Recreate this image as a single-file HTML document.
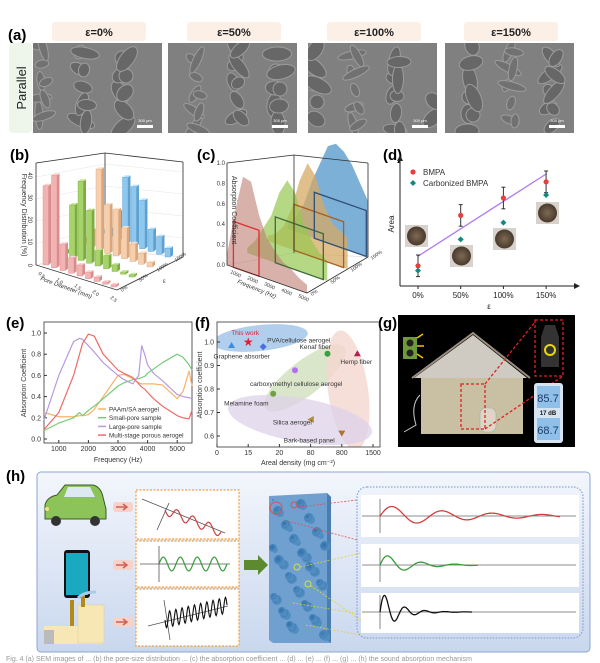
<!DOCTYPE html>
<html><head><meta charset="utf-8">
<style>
html,body{margin:0;padding:0;background:#fff;}
body{width:600px;height:663px;overflow:hidden;position:relative;font-family:"Liberation Sans",sans-serif;}
svg{position:absolute;left:0;top:0;}
</style></head>
<body>
<svg id="fig" width="600" height="663" viewBox="0 0 600 663" xmlns="http://www.w3.org/2000/svg" font-family="Liberation Sans, sans-serif">
<defs>
<radialGradient id="pore" cx="0.4" cy="0.4" r="0.7"><stop offset="0" stop-color="#2f6fa8"/><stop offset="1" stop-color="#5c97c8"/></radialGradient>
<linearGradient id="hbg" x1="0" y1="0" x2="0" y2="1"><stop offset="0" stop-color="#f3f6fc"/><stop offset="1" stop-color="#c9d7ee"/></linearGradient>
<radialGradient id="coin" cx="0.5" cy="0.5" r="0.5"><stop offset="0" stop-color="#7d6a55"/><stop offset="1" stop-color="#4a3a2c"/></radialGradient>
<clipPath id="fclip"><rect x="217" y="322" width="163" height="125"/></clipPath>
</defs>

<!-- (a) -->
<g>
<text x="8" y="40" font-size="15" font-weight="bold">(a)</text>
<rect x="9" y="43" width="23" height="90" rx="4" fill="#eef5ea"/>
<text transform="translate(26,88) rotate(-90)" text-anchor="middle" font-size="13" fill="#222">Parallel</text>
<g id="semHeaders"></g>
<g id="semImgs"></g>
</g>

<g id="pb">
<text x="10" y="160" font-size="15" font-weight="bold">(b)</text>
</g>
<g id="pc">
<text x="197" y="160" font-size="15" font-weight="bold">(c)</text>
</g>
<g id="pd">
<text x="383" y="160" font-size="15" font-weight="bold">(d)</text>
</g>
<g id="pe">
<text x="6" y="328" font-size="15" font-weight="bold">(e)</text>
</g>
<g id="pf">
<text x="195" y="328" font-size="15" font-weight="bold">(f)</text>
</g>
<g id="pg">
<text x="378" y="328" font-size="15" font-weight="bold">(g)</text>
<rect x="398" y="315" width="177" height="132" fill="#000"/>
<rect x="403" y="337" width="14" height="22" fill="#6f9a3a"/>
<circle cx="410" cy="343" r="3.5" fill="#222"/><circle cx="410" cy="353" r="3.5" fill="#222"/>
<path d="M417 338 l6 -4 M417 346 l7 0 M417 354 l6 4" stroke="#f2c200" stroke-width="1.5"/>
<polygon points="414,378 473,335 527,378" fill="#cfcbc2"/>
<polyline points="412,378 473,333 530,378" fill="none" stroke="#9b8f80" stroke-width="2"/>
<rect x="421" y="378" width="102" height="56" fill="#c9bfa3"/>
<rect x="480" y="408" width="16" height="24" rx="6" fill="#ddd6c6" stroke="#aaa" stroke-width="0.6"/>
<path d="M420 395 q-10 10 -4 30 l-12 7" fill="none" stroke="#ccc" stroke-width="1"/>
<rect x="461" y="384" width="24" height="45" fill="none" stroke="#e02020" stroke-width="1.3" stroke-dasharray="3,2"/>
<line x1="485" y1="384" x2="535" y2="322" stroke="#e02020" stroke-width="1.3" stroke-dasharray="3,2"/>
<line x1="485" y1="429" x2="563" y2="376" stroke="#e02020" stroke-width="1.3" stroke-dasharray="3,2"/>
<rect x="535" y="320" width="28" height="56" fill="none" stroke="#e02020" stroke-width="1.3" stroke-dasharray="3,2"/>
<path d="M545 325 h10 l4 12 v30 h-18 v-30 z" fill="#333"/>
<circle cx="550" cy="350" r="5" fill="none" stroke="#e8d800" stroke-width="2"/>
<rect x="534" y="383" width="29" height="60" rx="3" fill="#d6e4f2"/>
<rect x="537" y="386" width="23" height="22" fill="#8fc0ea"/>
<text x="548" y="402" font-size="11" text-anchor="middle" fill="#1a3a6a">85.7</text>
<text x="548" y="415" font-size="6" text-anchor="middle" font-weight="bold" fill="#111">17 dB</text>
<rect x="537" y="418" width="23" height="22" fill="#8fc0ea"/>
<text x="548" y="434" font-size="11" text-anchor="middle" fill="#1a3a6a">68.7</text>
</g>

<g id="ph">
<text x="6" y="481" font-size="15" font-weight="bold">(h)</text>
<rect x="37" y="472" width="553" height="180" rx="4" fill="url(#hbg)" stroke="#8ea6cf" stroke-width="1"/>
<g>
<path d="M45 505 q2 -8 12 -10 l8 -10 h28 q8 2 10 12 l3 12 v10 h-61 z" fill="#8cc45a" stroke="#3d5a25" stroke-width="1"/>
<path d="M68 487 h22 l5 10 h-31 z" fill="#dce9f0"/>
<circle cx="56" cy="521" r="5" fill="#333"/><circle cx="95" cy="521" r="5" fill="#333"/>
<circle cx="47" cy="509" r="2" fill="#f5e27a"/>
</g>
<rect x="64" y="550" width="26" height="48" rx="3" fill="#111"/>
<rect x="66" y="553" width="22" height="42" fill="#1aa9c0"/>
<g>
<rect x="44" y="626" width="58" height="18" fill="#f6e7b4"/>
<rect x="78" y="605" width="26" height="38" fill="#f6e7b4" stroke="#e0c98a" stroke-width="0.5"/>
<rect x="70" y="600" width="4" height="26" fill="#b08a1a"/>
<rect x="81" y="595" width="4" height="12" fill="#b08a1a"/>
<rect x="44" y="630" width="10" height="14" fill="#bbb"/>
<path d="M78 598 q6 -6 18 -6" stroke="#a8cbe8" stroke-width="3" fill="none"/>
</g>
<g id="hArrows"></g>
<rect x="136" y="490" width="103" height="49" fill="#fff" stroke="#f0a040" stroke-width="1.2" stroke-dasharray="2,1.5"/>
<rect x="136" y="541" width="103" height="46" fill="#fff" stroke="#f0a040" stroke-width="1.2" stroke-dasharray="2,1.5"/>
<rect x="136" y="589" width="103" height="57" fill="#fff" stroke="#f0a040" stroke-width="1.2" stroke-dasharray="2,1.5"/>
<g id="hWaves"></g>
<polygon points="244,560 258,560 258,555 268,565 258,575 258,570 244,570" fill="#5d8a2e"/>
<polygon points="269,496 327,493 331,497 331,643 273,643 269,640" fill="#6fa0d0"/>
<polygon points="327,493 331,497 331,643 327,640" fill="#4a7eb2"/>
<g id="pores"></g>
<rect x="357" y="487" width="226" height="151" rx="10" fill="none" stroke="#8ea6cf" stroke-width="1.3" stroke-dasharray="1.5,1.5"/>
<rect x="361" y="495" width="218" height="42" fill="#fff"/>
<rect x="361" y="544" width="218" height="43" fill="#fff"/>
<rect x="361" y="593" width="218" height="40" fill="#fff"/>
<g id="hDamp"></g>
<text x="6" y="661" font-size="7" fill="#999">Fig. 4  (a) SEM images of ... (b) the pore-size distribution ... (c) the absorption coefficient ... (d) ... (e) ... (f) ... (g) ... (h) the sound absorption mechanism</text>
</g>
</svg>

<script>
const NS='http://www.w3.org/2000/svg';
function mk(tag,attrs,parent){const e=document.createElementNS(NS,tag);for(const k in attrs)e.setAttribute(k,attrs[k]);parent.appendChild(e);return e;}
function txt(s,attrs,parent){const e=mk('text',attrs,parent);e.textContent=s;return e;}

/* ===== (a) SEM ===== */
const semLabels=['ε=0%','ε=50%','ε=100%','ε=150%'];
const semX=[33,168,308,445];
const gH=document.getElementById('semHeaders'),gI=document.getElementById('semImgs');
semLabels.forEach((l,i)=>{
  const x=semX[i];
  const hb=mk('rect',{x:x+19,y:22,width:94,height:19,rx:3,fill:'#fbefe6'},gH);
  
  
  const t=txt(l,{x:x+66,y:36,'font-size':11,'font-weight':'bold','text-anchor':'middle',fill:'#222'},gH);
  
  
  const r=mk('rect',{x:x,y:43,width:129,height:90,fill:'#808080'},gI);
  
  
  const cp='semclip'+i;
  const c=mk('clipPath',{id:cp},gI);mk('rect',{x:x,y:43,width:129,height:90},c);
  const gg=mk('g',{'clip-path':`url(#${cp})`},gI);
  for(let k=0;k<26;k++){
    const cx=x+5+((k*41+i*19)%122),cy=46+((k*23+i*13)%86);
    mk('ellipse',{cx:cx,cy:cy,rx:7+(k%4)*2.5,ry:4+(k%3)*1.5,fill:k%3?'#676767':'#717171',stroke:'#9c9c9c','stroke-width':1,transform:`rotate(${(k*29+i*40)%180} ${cx} ${cy})`},gg);
  }
  mk('rect',{x:x+104,y:125,width:16,height:3,fill:'#fff'},gI);
  txt('300 μm',{x:x+112,y:122,'font-size':4,'text-anchor':'middle',fill:'#fff'},gI);
});

/* ===== (b) 3D bar chart ===== */
const poreDiam=['0.5','1.0','1.5','2.0','2.5','3.0','3.5','4.0','4.5'];
const strainRows=['0%','50%','100%','150%'];
const freqPink=[36,42,12,7,5,3,2,1,1];
const freqGreen=[2,24,36,24,7,6,3,1,1];
const freqTan=[3,8,37,22,21,14,8,5,2];
const freqBlue=[2,4,13,30,27,22,10,8,4];
(function(){
 const g=document.getElementById('pb');
 const rows=[freqPink,freqGreen,freqTan,freqBlue];
 const cols=[['#f2b3b3','#d98c8c','#fbd3d3'],['#a7d36b','#7eab45','#c8e79a'],['#f7cfad','#d8a77e','#fde2cb'],['#8fc8ef','#5fa1cf','#c0e2f8']];
 const P=(r,i,v)=>[43+i*8.5+r*18, 265+i*2.75-r*10 - v*2.2];
 mk('polygon',{points:'36,163 105,153 105,250 36,265',fill:'none',stroke:'#e4e4e4'},g);
 mk('polygon',{points:'105,153 183,162 183,257 105,250',fill:'none',stroke:'#e4e4e4'},g);
 for(let t=10;t<=40;t+=10){const yy=265-t*2.2;mk('polyline',{points:`36,${yy} 105,${yy-13} 183,${yy-5}`,fill:'none',stroke:'#e6e6e6','stroke-width':0.6},g);}
 mk('polyline',{points:'36,163 36,265 117,290 183,257 183,162',fill:'none',stroke:'#333','stroke-width':0.8},g);
 mk('polyline',{points:'36,163 105,153 183,162',fill:'none',stroke:'#333','stroke-width':0.8},g);
 mk('line',{x1:105,y1:153,x2:105,y2:250,stroke:'#333','stroke-width':0.8},g);
 for(let r=3;r>=0;r--){
  rows[r].forEach((v,i)=>{
   const [x,yb]=P(r,i,0); const yt=yb-v*2.2; const w=5.5,dx=2.5,dy=-2;
   mk('polygon',{points:`${x+w},${yt} ${x+w+dx},${yt+dy} ${x+w+dx},${yb+dy} ${x+w},${yb}`,fill:cols[r][1]},g);
   mk('polygon',{points:`${x},${yt} ${x+dx},${yt+dy} ${x+w+dx},${yt+dy} ${x+w},${yt}`,fill:cols[r][2]},g);
   const bar=mk('rect',{x:x,y:yt,width:w,height:Math.max(v*2.2,0.5),fill:cols[r][0],stroke:cols[r][1],'stroke-width':0.4},g);
   
   
  });
 }
 [0,10,20,30,40].forEach(t=>{txt(String(t),{x:32,y:267-t*2.2,'font-size':6,'text-anchor':'end',fill:'#333',transform:`rotate(90 30 ${265-t*2.2})`},g);});
 const yl=txt('Frequency Distribution (%)',{x:0,y:0,'font-size':7,'text-anchor':'middle',fill:'#333',transform:'translate(22,215) rotate(90)'},g);
 
 
 ['0.5','1.0','1.5','2.0','2.5'].forEach((t,i)=>txt(t,{x:38+i*18,y:274+i*6,'font-size':5,fill:'#333',transform:`rotate(40 ${38+i*18} ${274+i*6})`},g));
 txt('Pore Diameter (mm)',{x:0,y:0,'font-size':6,fill:'#333','font-style':'italic',transform:'translate(40,280) rotate(20)'},g);
 strainRows.forEach((t,i)=>txt(t,{x:122+i*18,y:292-i*10,'font-size':5,fill:'#333',transform:`rotate(-35 ${122+i*18} ${292-i*10})`},g));
 txt('ε',{x:163,y:283,'font-size':6,fill:'#333'},g);
})();

/* ===== (c) 3D absorption ===== */
const cFreqTicks=['1000','2000','3000','4000','5000'];
const absPink=[0.1,0.55,0.92,0.9,0.6,0.4,0.3,0.22,0.18,0.12,0.08];
const absGreen=[0.05,0.15,0.3,0.45,0.7,0.85,0.75,0.5,0.35,0.25,0.2];
const absTan=[0.05,0.1,0.2,0.4,0.7,0.9,0.8,0.55,0.4,0.35,0.3];
const absBlue=[0.05,0.15,0.3,0.55,0.75,0.95,1.0,0.95,0.85,0.7,0.55];
(function(){
 const g=document.getElementById('pc');
 const P=(r,f,v)=>[227+f*80+r*20.3, 265+f*28-r*12 - v*102];
 mk('polygon',{points:'227,163 294,155 294,253 227,265',fill:'none',stroke:'#e4e4e4'},g);
 mk('polygon',{points:'294,155 368,163 368,257 294,253',fill:'none',stroke:'#e4e4e4'},g);
 const rows=[absBlue,absTan,absGreen,absPink];
 const fills=['rgba(80,150,200,0.75)','rgba(215,170,100,0.75)','rgba(150,200,80,0.7)','rgba(190,125,115,0.6)'];
 const rowIdx=[3,2,1,0];
 rows.forEach((arr,k)=>{
   const r=rowIdx[k];
   let pts=[P(r,0,0)];
   arr.forEach((v,i)=>pts.push(P(r,i/(arr.length-1),v)));
   pts.push(P(r,1,0));
   const p=mk('polygon',{points:pts.map(q=>q.join(',')).join(' '),fill:fills[k]},g);
   
   
 });
 const rects=[[0,0.08,0.4,'#e03030'],[1,0.35,0.95,'#3f6a3a'],[2,0.33,0.95,'#a8601e'],[3,0.33,0.98,'#2e4f78']];
 rects.forEach(([r,f1,f2,c])=>{
   const a=P(r,f1,0),b=P(r,f2,0),cc=P(r,f2,0.45),d=P(r,f1,0.45);
   const e=mk('polygon',{points:[a,b,cc,d].map(q=>q.join(',')).join(' '),fill:'none',stroke:c,'stroke-width':1.3},g);
   
   
 });
 mk('polyline',{points:'227,163 227,265 307,293 368,257 368,163',fill:'none',stroke:'#333','stroke-width':0.8},g);
 mk('polyline',{points:'227,163 294,155 368,163',fill:'none',stroke:'#333','stroke-width':0.8},g);
 mk('line',{x1:294,y1:155,x2:294,y2:253,stroke:'#333','stroke-width':0.8},g);
 [0,0.2,0.4,0.6,0.8,1.0].forEach(t=>txt(t.toFixed(1),{x:225,y:267-t*102,'font-size':6,'text-anchor':'end',fill:'#333'},g));
 txt('Absorption Coefficient',{x:0,y:0,'font-size':7,'text-anchor':'middle',fill:'#333',transform:'translate(232,210) rotate(90)'},g);
 cFreqTicks.forEach((t,i)=>{const x=230+i*17,y=273+i*6;txt(t,{x:x,y:y,'font-size':5,fill:'#333',transform:`rotate(25 ${x} ${y})`},g);});
 txt('Frequency (Hz)',{x:0,y:0,'font-size':6,fill:'#333','font-style':'italic',transform:'translate(237,283) rotate(22)'},g);
 strainRows.forEach((t,i)=>txt(t,{x:312+i*20,y:296-i*12,'font-size':5,fill:'#333',transform:`rotate(-35 ${312+i*20} ${296-i*12})`},g));
})();

/* ===== (d) Area vs strain ===== */
const dCats=['0%','50%','100%','150%'];
const areaBMPA=[1.6,5.8,7.25,8.6];
const areaCarb=[1.2,3.8,5.2,7.5];
const areaErr=[0.9,0.9,0.9,0.9];
const fitLine=[2.4,9.25];
(function(){
 const g=document.getElementById('pd');
 const X=i=>418+i*42.7, Y=v=>285-v*12;
 mk('line',{x1:400,y1:286,x2:578,y2:286,stroke:'#222','stroke-width':1},g);
 mk('polygon',{points:'580,286 574,283 574,289',fill:'#222'},g);
 mk('line',{x1:400,y1:286,x2:400,y2:158,stroke:'#222','stroke-width':1},g);
 mk('polygon',{points:'400,155 397,161 403,161',fill:'#222'},g);
 dCats.forEach((c,i)=>{
   mk('line',{x1:X(i),y1:286,x2:X(i),y2:289,stroke:'#222'},g);
   const t=txt(c,{x:X(i),y:298,'font-size':8,'text-anchor':'middle',fill:'#222'},g);
   
   
 });
 txt('ε',{x:489,y:309,'font-size':8,'text-anchor':'middle',fill:'#222'},g);
 txt('Area',{x:0,y:0,'font-size':8,'text-anchor':'middle',fill:'#222',transform:'translate(394,224) rotate(-90)'},g);
 const photoPos=[[405,225],[450,245],[493,228],[536,202]];
 photoPos.forEach(([x,y],i)=>{
   const r=mk('rect',{x:x,y:y,width:23,height:22,fill:'#d8d2cc'},g);
   
   
   mk('circle',{cx:x+11.5,cy:y+11,r:9.5,fill:'url(#coin)'},g);
 });
 const fl=mk('line',{x1:X(0),y1:Y(fitLine[0]),x2:X(3),y2:Y(fitLine[1]),stroke:'#b07cf0','stroke-width':1.3},g);
 
 
 areaBMPA.forEach((v,i)=>{
   const e=areaErr[i];
   mk('line',{x1:X(i),y1:Y(v+e),x2:X(i),y2:Y(v-e),stroke:'#333','stroke-width':1},g);
   mk('line',{x1:X(i)-2,y1:Y(v+e),x2:X(i)+2,y2:Y(v+e),stroke:'#333'},g);
   mk('line',{x1:X(i)-2,y1:Y(v-e),x2:X(i)+2,y2:Y(v-e),stroke:'#333'},g);
   const c=mk('circle',{cx:X(i),cy:Y(v),r:2.6,fill:'#e83e3e'},g);
   
   
 });
 areaCarb.forEach((v,i)=>{
   const c=mk('path',{d:`M${X(i)} ${Y(v)-3} L${X(i)+3} ${Y(v)} L${X(i)} ${Y(v)+3} L${X(i)-3} ${Y(v)} Z`,fill:'#138a80'},g);
   
   
 });
 mk('circle',{cx:413,cy:172,r:2.6,fill:'#e83e3e'},g);
 txt('BMPA',{x:423,y:175,'font-size':8,fill:'#333'},g);
 mk('path',{d:'M413 180 l3 3 l-3 3 l-3 -3 z',fill:'#138a80'},g);
 txt('Carbonized BMPA',{x:423,y:186,'font-size':8,fill:'#333'},g);
})();

/* ===== (e) absorption spectra ===== */
const eFreq=[500,1000,1500,1700,1800,2000,2200,2500,3000,3200,3500,3700,3800,3900,4000,4200,4500,5000,5200,5400,5500];
const ePAAm=[0.25,0.21,0.21,0.22,0.22,0.23,0.28,0.40,0.60,0.61,0.57,0.53,0.52,0.52,0.52,0.52,0.51,0.38,0.45,0.64,0.50];
const eSmall=[0.08,0.15,0.20,0.25,0.22,0.27,0.31,0.38,0.50,0.53,0.56,0.57,0.58,0.59,0.62,0.66,0.72,0.80,0.77,0.70,0.65];
const eLarge=[0.18,0.60,0.92,0.95,0.94,0.88,0.82,0.72,0.60,0.56,0.52,0.60,0.88,0.80,0.70,0.62,0.55,0.42,0.40,0.39,0.38];
const eMulti=[0.09,0.25,0.60,0.80,0.90,0.99,0.97,0.80,0.65,0.62,0.58,0.52,0.49,0.47,0.44,0.38,0.31,0.22,0.20,0.19,0.27];
const eXTicks=[1000,2000,3000,4000,5000];
const eYTicks=[0,0.2,0.4,0.6,0.8,1.0];
(function(){
 const g=document.getElementById('pe');
 const X=f=>44+(f-500)*(148/5000), Y=v=>439-v*106;
 mk('rect',{x:44,y:322,width:148,height:121,fill:'none',stroke:'#333','stroke-width':0.8},g);
 eXTicks.forEach(f=>{mk('line',{x1:X(f),y1:443,x2:X(f),y2:440,stroke:'#333'},g);txt(String(f),{x:X(f),y:451,'font-size':7,'text-anchor':'middle',fill:'#333'},g);});
 eYTicks.forEach(v=>{mk('line',{x1:44,y1:Y(v),x2:47,y2:Y(v),stroke:'#333'},g);txt(v.toFixed(1),{x:41,y:Y(v)+2.5,'font-size':7,'text-anchor':'end',fill:'#333'},g);});
 txt('Frequency (Hz)',{x:118,y:462,'font-size':7,'text-anchor':'middle',fill:'#333'},g);
 txt('Absorption Coefficient',{x:0,y:0,'font-size':7,'text-anchor':'middle',fill:'#333',transform:'translate(26,383) rotate(-90)'},g);
 const series=[[ePAAm,'#f8b36a','PAAm/SA aerogel'],[eSmall,'#78cc78','Small-pore sample'],[eLarge,'#b69ae0','Large-pore sample'],[eMulti,'#f06a6a','Multi-stage porous aerogel']];
 series.forEach(([arr,c,n],k)=>{
   const p=mk('polyline',{points:arr.map((v,i)=>X(eFreq[i])+','+Y(v)).join(' '),fill:'none',stroke:c,'stroke-width':1.2,'stroke-linejoin':'round'},g);
   
   
   mk('line',{x1:98,y1:409+k*8.7,x2:106,y2:409+k*8.7,stroke:c,'stroke-width':1.5},g);
   const t=txt(n,{x:109,y:411.5+k*8.7,'font-size':6.3,fill:'#333'},g);
   
   
 });
})();

/* ===== (f) scatter ===== */
const fTickVals=[0,15,20,80,800,1500];
const fNames=['Graphene absorber','This work','PVA/cellulose aerogel','Kenaf fiber','carboxymethyl cellulose aerogel','Melamine foam','Silica aerogel','Bark-based panel','Hemp fiber'];
const fDensity=[7,15,17.4,470,50,19,85,800,1150];
const fAbs=[0.985,1.0,0.98,0.95,0.88,0.78,0.67,0.61,0.95];
const fYTicks=[0.6,0.7,0.8,0.9,1.0];
(function(){
 const g=document.getElementById('pf');
 const X=d=>{let i=0;while(i<fTickVals.length-2&&d>fTickVals[i+1])i++;const t=(d-fTickVals[i])/(fTickVals[i+1]-fTickVals[i]);return 217+(i+t)*31.2;};
 const Y=v=>436-(v-0.6)*235;
 const ge=mk('g',{'clip-path':'url(#fclip)'},g);
 mk('ellipse',{cx:260,cy:338,rx:48,ry:13,fill:'#9ec3e8',opacity:0.8,transform:'rotate(-6 260 338)'},ge);
 mk('ellipse',{cx:305,cy:378,rx:50,ry:17,fill:'#cfe0bd',opacity:0.8,transform:'rotate(-38 305 378)'},ge);
 mk('ellipse',{cx:348,cy:390,rx:20,ry:60,fill:'#f5d7d0',opacity:0.8,transform:'rotate(-8 348 390)'},ge);
 mk('ellipse',{cx:300,cy:420,rx:73,ry:22,fill:'#ddd2ea',opacity:0.75,transform:'rotate(10 300 420)'},ge);
 mk('rect',{x:217,y:322,width:163,height:125,fill:'none',stroke:'#333','stroke-width':0.8},g);
 fTickVals.forEach(v=>{mk('line',{x1:X(v),y1:447,x2:X(v),y2:444,stroke:'#333'},g);txt(String(v),{x:X(v),y:455,'font-size':7,'text-anchor':'middle',fill:'#333'},g);});
 fYTicks.forEach(v=>{mk('line',{x1:217,y1:Y(v),x2:220,y2:Y(v),stroke:'#333'},g);txt(v.toFixed(1),{x:214,y:Y(v)+2.5,'font-size':7,'text-anchor':'end',fill:'#333'},g);});
 txt('Areal density (mg cm⁻²)',{x:298,y:465,'font-size':7,'text-anchor':'middle',fill:'#333'},g);
 txt('Absorption coefficient',{x:0,y:0,'font-size':7,'text-anchor':'middle',fill:'#333',transform:'translate(202,385) rotate(-90)'},g);
 const colors=['#3a8ee0','#e02030','#4a6ee0','#3aa040','#b070f0','#70a040','#b09030','#b07030','#b02050'];
 const shapes=['tri','star','dia','hex','circ','circ','left','down','tri'];
 const lbl=[[-18,13],[-17,-7],[4,-4],[-28,-5],[-45,16],[-49,12],[-38,5],[-58,9],[-17,10]];
 fDensity.forEach((d,i)=>{
  const x=X(d),y=Y(fAbs[i]),c=colors[i];let el;
  if(shapes[i]=='tri')el=mk('polygon',{points:`${x},${y-3.5} ${x+3.5},${y+2.5} ${x-3.5},${y+2.5}`,fill:c},g);
  else if(shapes[i]=='star'){el=mk('text',{x:x,y:y+4,'font-size':12,'text-anchor':'middle',fill:c},g);el.textContent='★';}
  else if(shapes[i]=='dia')el=mk('polygon',{points:`${x},${y-3.5} ${x+3.5},${y} ${x},${y+3.5} ${x-3.5},${y}`,fill:c},g);
  else if(shapes[i]=='left')el=mk('polygon',{points:`${x-3.5},${y} ${x+3},${y-3.5} ${x+3},${y+3.5}`,fill:c},g);
  else if(shapes[i]=='down')el=mk('polygon',{points:`${x-3.5},${y-3} ${x+3.5},${y-3} ${x},${y+3}`,fill:c},g);
  else el=mk('circle',{cx:x,cy:y,r:3,fill:c},g);
  
  
  const t=txt(fNames[i],{x:x+lbl[i][0],y:y+lbl[i][1],'font-size':6.5,fill:i==1?'#e02030':'#333'},g);
  
  
 });
})();

/* ===== (h) waves ===== */
(function(){
 const ga=document.getElementById('hArrows');
 [507,565,622].forEach(y=>{mk('rect',{x:113,y:y-5,width:20,height:10,rx:3,fill:'#f6d2c8'},ga);mk('path',{d:`M116 ${y} h11 M123 ${y-3} l4 3 l-4 3`,stroke:'#d0605a','stroke-width':1.5,fill:'none'},ga);});
 const gw=document.getElementById('hWaves');
 mk('line',{x1:142,y1:499,x2:225,y2:533,stroke:'#555','stroke-width':0.8},gw);
 mk('line',{x1:157,y1:530,x2:169,y2:503,stroke:'#555','stroke-width':0.8},gw);
 let p='';for(let i=0;i<=60;i++){const t=i/60,x=165+t*56,y=510+t*22+Math.sin(t*Math.PI*7)*5;p+=(i?'L':'M')+x+' '+y;}
 mk('path',{d:p,fill:'none',stroke:'#d04040','stroke-width':1.2},gw);
 mk('line',{x1:140,y1:564,x2:230,y2:564,stroke:'#555','stroke-width':0.8},gw);
 mk('line',{x1:159,y1:546,x2:159,y2:582,stroke:'#555','stroke-width':0.8},gw);
 p='';for(let i=0;i<=80;i++){const t=i/80,x=159+t*68,y=564-Math.sin(t*Math.PI*8)*7;p+=(i?'L':'M')+x+' '+y;}
 mk('path',{d:p,fill:'none',stroke:'#3a9a3a','stroke-width':1.2},gw);
 mk('line',{x1:148,y1:626,x2:228,y2:606,stroke:'#555','stroke-width':0.8},gw);
 mk('line',{x1:164,y1:600,x2:170,y2:640,stroke:'#555','stroke-width':0.8},gw);
 p='';for(let i=0;i<=120;i++){const t=i/120,x=165+t*62,y=620-t*15+Math.sin(t*Math.PI*20)*8;p+=(i?'L':'M')+x+' '+y;}
 mk('path',{d:p,fill:'none',stroke:'#111','stroke-width':1.1},gw);
 const gp=document.getElementById('pores');
 for(let k=0;k<110;k++){const x=273+((k*17)%54),y=500+((k*29)%138),r=1+((k*7)%5);mk('circle',{cx:x,cy:y,r:r,fill:'url(#pore)'},gp);}
 mk('circle',{cx:276,cy:508,r:6,fill:'none',stroke:'#e05050'},gp);
 mk('circle',{cx:294,cy:505,r:3,fill:'none',stroke:'#e05050'},gp);
 mk('circle',{cx:297,cy:567,r:3,fill:'none',stroke:'#d8e040'},gp);
 mk('circle',{cx:308,cy:584,r:3,fill:'none',stroke:'#d8e040'},gp);
 [['299,507 357,500','#e05050'],['284,520 357,540','#e05050'],['300,567 361,553','#e0d040'],['311,586 361,620','#e0d040'],['293,603 361,614','#e0d040'],['306,625 361,635','#e0d040']].forEach(([pt,c])=>mk('polyline',{points:pt,stroke:c,'stroke-dasharray':'2,1.5',fill:'none','stroke-width':0.8},gp));
 const gd=document.getElementById('hDamp');
 const damp=[[516,560,0.02,11,0.012,'#d04040'],[565,478,0.03,12,0.035,'#3a9a3a'],[612,472,0.05,22,0.06,'#111']];
 damp.forEach(([yc,xe,f,amp,dec,c])=>{
   mk('line',{x1:362,y1:yc,x2:576,y2:yc,stroke:'#666','stroke-width':0.8},gd);
   mk('line',{x1:380,y1:yc-17,x2:380,y2:yc+17,stroke:'#666','stroke-width':0.8},gd);
   let p='';const n=200;for(let i=0;i<=n;i++){const x=380+(xe-380)*i/n;const t=x-380;const y=yc-Math.sin(t*f*2*Math.PI)*amp*Math.exp(-t*dec);p+=(i?'L':'M')+x.toFixed(1)+' '+y.toFixed(1);}
   mk('path',{d:p,fill:'none',stroke:c,'stroke-width':1.3},gd);
 });
})();
</script>
</body></html>
